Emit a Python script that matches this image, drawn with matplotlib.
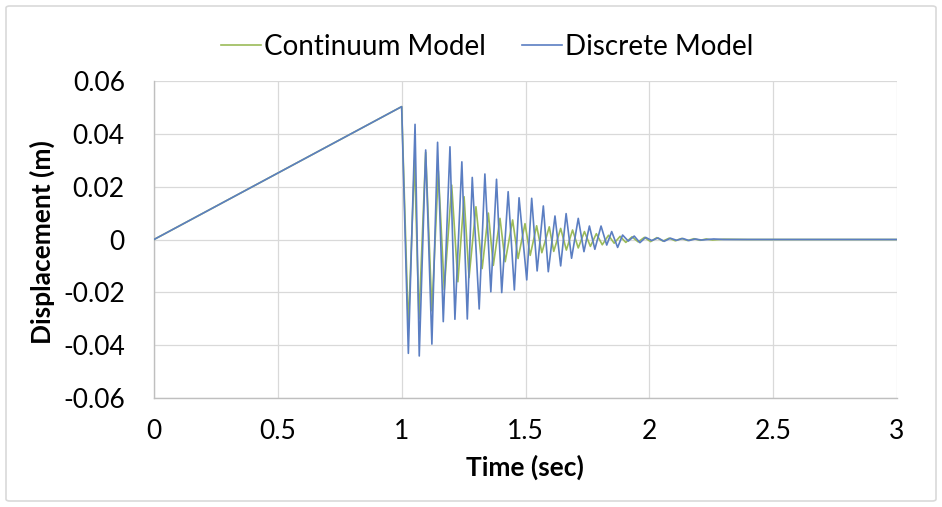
import matplotlib.pyplot as plt
from matplotlib.lines import Line2D
from matplotlib.patches import FancyBboxPatch

# Ramp to t=1, then peaks/troughs of the free vibration
discrete_t = [0.0, 1.000, 1.027, 1.054, 1.071, 1.097, 1.122, 1.145, 1.168, 1.195, 1.215,
              1.243, 1.265, 1.285, 1.313, 1.336, 1.360, 1.383, 1.404, 1.430, 1.455,
              1.474, 1.505, 1.525, 1.547, 1.572, 1.592, 1.619, 1.642, 1.664, 1.686,
              1.713, 1.736, 1.758, 1.780, 1.805, 1.828, 1.848, 1.872, 1.892, 1.915,
              1.939, 1.962, 1.985, 2.010, 2.035, 2.060, 2.085, 2.110, 2.135, 2.160,
              2.185, 2.210, 2.260, 2.300, 3.000]
discrete_u = [0.0, 0.0503, -0.0431, 0.0436, -0.0441, 0.0339, -0.0396, 0.0368, -0.0311, 0.0351, -0.0302,
              0.0294, -0.0301, 0.0235, -0.0263, 0.0248, -0.0198, 0.0228, -0.0201, 0.0181, -0.0191,
              0.0158, -0.0153, 0.0156, -0.0119, 0.0127, -0.0122, 0.0089, -0.0100, 0.0098, -0.0071,
              0.0080, -0.0046, 0.0051, -0.0037, 0.0051, -0.0021, 0.0030, -0.0030, 0.0017, -0.0006,
              0.0013, -0.0012, 0.0008, -0.0004, 0.0006, -0.0007, 0.0005, -0.0003, 0.0004, -0.0004,
              0.0002, -0.0002, 0.0002, 0.0, 0.0]

continuum_t = [0.0, 1.000, 1.027, 1.052, 1.070, 1.097, 1.122, 1.148, 1.172, 1.202, 1.227,
               1.252, 1.272, 1.300, 1.325, 1.350, 1.370, 1.397, 1.418, 1.448, 1.470,
               1.498, 1.519, 1.545, 1.566, 1.596, 1.614, 1.642, 1.665, 1.690, 1.713,
               1.738, 1.762, 1.786, 1.810, 1.835, 1.858, 1.882, 1.905, 1.930, 1.955,
               1.980, 2.005, 2.030, 2.055, 2.080, 2.105, 2.130, 2.155, 2.180, 2.205,
               2.230, 2.255, 2.300, 2.400, 3.000]
continuum_u = [0.0, 0.0503, -0.0335, 0.0300, -0.0300, 0.0330, -0.0270, 0.0260, -0.0190, 0.0206, -0.0160,
               0.0162, -0.0144, 0.0124, -0.0110, 0.0100, -0.0098, 0.0080, -0.0084, 0.0074, -0.0072,
               0.0060, -0.0060, 0.0052, -0.0050, 0.0048, -0.0045, 0.0042, -0.0040, 0.0036, -0.0032,
               0.0030, -0.0026, 0.0022, -0.0020, 0.0016, -0.0014, 0.0012, -0.0011, 0.0010, -0.0009,
               0.0008, -0.0008, 0.0007, -0.0006, 0.0005, -0.0005, 0.0004, -0.0004, 0.0003, -0.0003,
               0.0002, -0.0002, 0.0001, 0.0, 0.0]

x_ticks = [0, 0.5, 1, 1.5, 2, 2.5, 3]
x_tick_labels = ["0", "0.5", "1", "1.5", "2", "2.5", "3"]
y_ticks = [-0.06, -0.04, -0.02, 0, 0.02, 0.04, 0.06]
y_tick_labels = ["-0.06", "-0.04", "-0.02", "0", "0.02", "0.04", "0.06"]

GREEN = "#9bbb59"
BLUE = "#5b7ec2"
GRID = "#d9d9d9"

plt.rcParams["font.family"] = ["Lato", "DejaVu Sans"]

fig = plt.figure(figsize=(9.42, 5.07), dpi=100)
ax = fig.add_axes([154 / 942, 1 - 398 / 507, 743 / 942, 317 / 507])

# outer chart border
fig.patches.append(FancyBboxPatch((6 / 942, 6 / 507), 930 / 942, 495 / 507,
                                  boxstyle="round,pad=0,rounding_size=0.004",
                                  transform=fig.transFigure, facecolor="none",
                                  edgecolor="#d9d9d9", linewidth=1.2))

ax.plot(continuum_t, continuum_u, color=GREEN, linewidth=1.2, zorder=3)
ax.plot(discrete_t, discrete_u, color=BLUE, linewidth=1.2, zorder=4)

ax.set_xlim(0, 3)
ax.set_ylim(-0.06, 0.06)
ax.set_xticks(x_ticks)
ax.set_xticklabels(x_tick_labels)
ax.set_yticks(y_ticks)
ax.set_yticklabels(y_tick_labels)
ax.tick_params(axis="both", length=0, labelsize=19, colors="black")
ax.tick_params(axis="x", pad=15)
ax.tick_params(axis="y", pad=21)

ax.grid(True, color=GRID, linewidth=0.9)
ax.set_axisbelow(True)
for side in ["top", "right"]:
    ax.spines[side].set_visible(False)
for side in ["left", "bottom"]:
    ax.spines[side].set_color("#bfbfbf")
    ax.spines[side].set_linewidth(1.0)

# axis titles placed where the reference has them
fig.text(525 / 942, 1 - 467 / 507, "Time (sec)", fontsize=19, fontweight="bold",
         ha="center", va="center")
fig.text(42 / 942, 1 - 242 / 507, "Displacement (m)", fontsize=19, fontweight="bold",
         ha="center", va="center", rotation=90)

handles = [Line2D([0], [0], color=GREEN, linewidth=1.2),
           Line2D([0], [0], color=BLUE, linewidth=1.2)]
fig.legend(handles, ["Continuum Model", "Discrete Model"], loc="center",
           bbox_to_anchor=(487 / 942, 1 - 47 / 507), ncol=2, frameon=False,
           fontsize=20, handlelength=1.45, handletextpad=0.1, columnspacing=1.3)

fig.savefig("out.png", dpi=100)
